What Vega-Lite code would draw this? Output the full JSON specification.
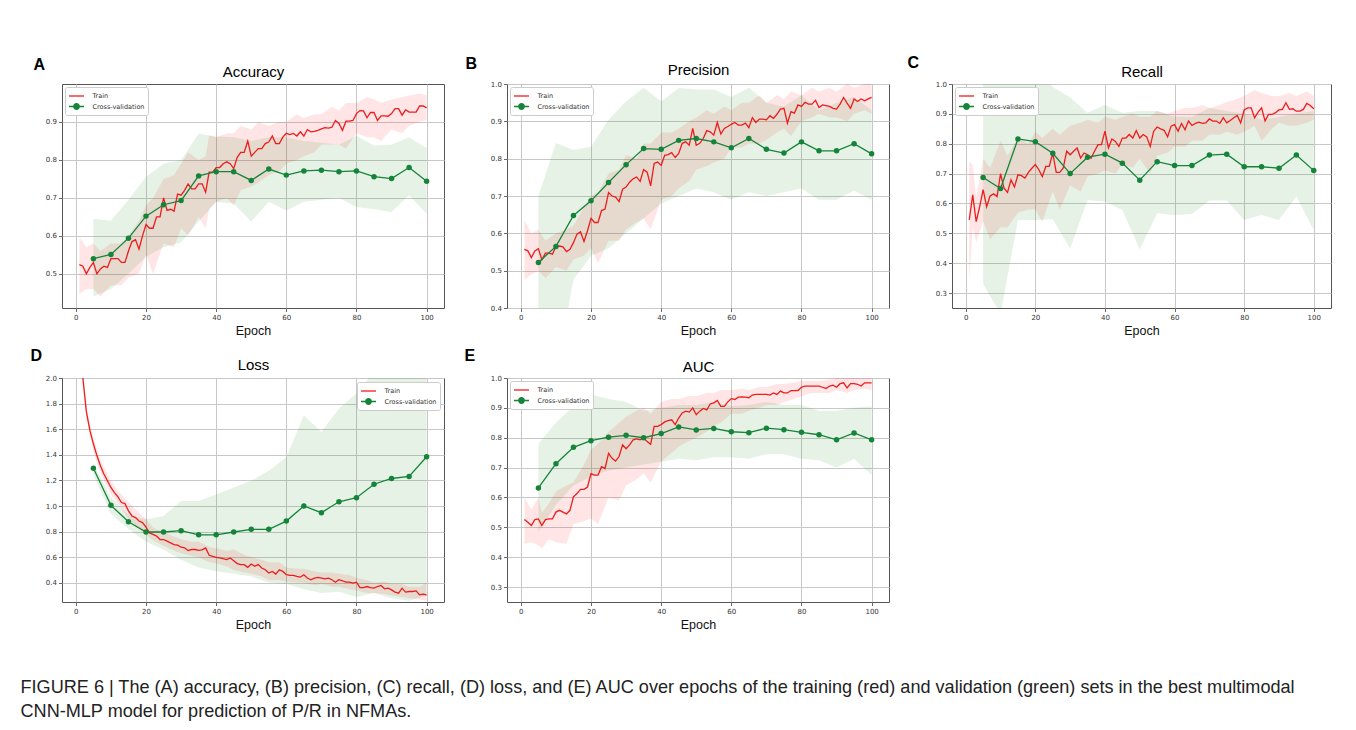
{
"$schema":"https://vega.github.io/schema/vega-lite/v6.json",
"padding":{"left":20,"top":53,"right":5,"bottom":5},
"background":"#ffffff",
"title":{"text":["FIGURE 6 | The (A) accuracy, (B) precision, (C) recall, (D) loss, and (E) AUC over epochs of the training (red) and validation (green) sets in the best multimodal","CNN-MLP model for prediction of P/R in NFMAs."],"orient":"bottom","anchor":"start","frame":"bounds","font":"Liberation Sans","fontSize":18.1,"fontWeight":"normal","color":"#222222","lineHeight":24,"offset":47,"dx":-9},
"datasets":{
"tA":[{"e":1,"t":0.524},{"e":2,"t":0.52},{"e":3,"t":0.5},{"e":4,"t":0.517},{"e":5,"t":0.53},{"e":6,"t":0.5},{"e":7,"t":0.513},{"e":8,"t":0.52},{"e":9,"t":0.517},{"e":10,"t":0.54},{"e":11,"t":0.54},{"e":12,"t":0.54},{"e":13,"t":0.53},{"e":14,"t":0.53},{"e":15,"t":0.56},{"e":16,"t":0.585},{"e":17,"t":0.59},{"e":18,"t":0.565},{"e":19,"t":0.6},{"e":20,"t":0.63},{"e":21,"t":0.62},{"e":22,"t":0.62},{"e":23,"t":0.65},{"e":24,"t":0.65},{"e":25,"t":0.7},{"e":26,"t":0.667},{"e":27,"t":0.67},{"e":28,"t":0.665},{"e":29,"t":0.71},{"e":30,"t":0.707},{"e":31,"t":0.72},{"e":32,"t":0.737},{"e":33,"t":0.724},{"e":34,"t":0.724},{"e":35,"t":0.737},{"e":36,"t":0.737},{"e":37,"t":0.715},{"e":38,"t":0.768},{"e":39,"t":0.768},{"e":40,"t":0.78},{"e":41,"t":0.78},{"e":42,"t":0.79},{"e":43,"t":0.795},{"e":44,"t":0.79},{"e":45,"t":0.777},{"e":46,"t":0.807},{"e":47,"t":0.82},{"e":48,"t":0.82},{"e":49,"t":0.85},{"e":50,"t":0.81},{"e":51,"t":0.82},{"e":52,"t":0.83},{"e":53,"t":0.83},{"e":54,"t":0.843},{"e":55,"t":0.847},{"e":56,"t":0.863},{"e":57,"t":0.843},{"e":58,"t":0.843},{"e":59,"t":0.86},{"e":60,"t":0.87},{"e":61,"t":0.867},{"e":62,"t":0.87},{"e":63,"t":0.863},{"e":64,"t":0.874},{"e":65,"t":0.863},{"e":66,"t":0.88},{"e":67,"t":0.874},{"e":68,"t":0.875},{"e":69,"t":0.878},{"e":70,"t":0.882},{"e":71,"t":0.885},{"e":72,"t":0.884},{"e":73,"t":0.886},{"e":74,"t":0.904},{"e":75,"t":0.896},{"e":76,"t":0.878},{"e":77,"t":0.902},{"e":78,"t":0.902},{"e":79,"t":0.904},{"e":80,"t":0.922},{"e":81,"t":0.93},{"e":82,"t":0.929},{"e":83,"t":0.911},{"e":84,"t":0.925},{"e":85,"t":0.925},{"e":86,"t":0.904},{"e":87,"t":0.916},{"e":88,"t":0.916},{"e":89,"t":0.915},{"e":90,"t":0.922},{"e":91,"t":0.935},{"e":92,"t":0.935},{"e":93,"t":0.918},{"e":94,"t":0.932},{"e":95,"t":0.926},{"e":96,"t":0.926},{"e":97,"t":0.926},{"e":98,"t":0.942},{"e":99,"t":0.942},{"e":100,"t":0.937}],
"tB":[{"e":1,"t":0.557},{"e":2,"t":0.553},{"e":3,"t":0.535},{"e":4,"t":0.553},{"e":5,"t":0.559},{"e":6,"t":0.529},{"e":7,"t":0.547},{"e":8,"t":0.547},{"e":9,"t":0.544},{"e":10,"t":0.565},{"e":11,"t":0.566},{"e":12,"t":0.564},{"e":13,"t":0.551},{"e":14,"t":0.557},{"e":15,"t":0.575},{"e":16,"t":0.598},{"e":17,"t":0.604},{"e":18,"t":0.578},{"e":19,"t":0.607},{"e":20,"t":0.64},{"e":21,"t":0.629},{"e":22,"t":0.629},{"e":23,"t":0.661},{"e":24,"t":0.665},{"e":25,"t":0.709},{"e":26,"t":0.7},{"e":27,"t":0.697},{"e":28,"t":0.685},{"e":29,"t":0.718},{"e":30,"t":0.724},{"e":31,"t":0.737},{"e":32,"t":0.746},{"e":33,"t":0.751},{"e":34,"t":0.739},{"e":35,"t":0.771},{"e":36,"t":0.764},{"e":37,"t":0.727},{"e":38,"t":0.787},{"e":39,"t":0.791},{"e":40,"t":0.782},{"e":41,"t":0.809},{"e":42,"t":0.811},{"e":43,"t":0.816},{"e":44,"t":0.803},{"e":45,"t":0.814},{"e":46,"t":0.841},{"e":47,"t":0.845},{"e":48,"t":0.836},{"e":49,"t":0.881},{"e":50,"t":0.836},{"e":51,"t":0.841},{"e":52,"t":0.854},{"e":53,"t":0.875},{"e":54,"t":0.872},{"e":55,"t":0.863},{"e":56,"t":0.897},{"e":57,"t":0.866},{"e":58,"t":0.881},{"e":59,"t":0.886},{"e":60,"t":0.892},{"e":61,"t":0.897},{"e":62,"t":0.89},{"e":63,"t":0.89},{"e":64,"t":0.895},{"e":65,"t":0.883},{"e":66,"t":0.91},{"e":67,"t":0.897},{"e":68,"t":0.906},{"e":69,"t":0.906},{"e":70,"t":0.904},{"e":71,"t":0.915},{"e":72,"t":0.908},{"e":73,"t":0.919},{"e":74,"t":0.933},{"e":75,"t":0.935},{"e":76,"t":0.895},{"e":77,"t":0.926},{"e":78,"t":0.922},{"e":79,"t":0.944},{"e":80,"t":0.94},{"e":81,"t":0.951},{"e":82,"t":0.946},{"e":83,"t":0.946},{"e":84,"t":0.956},{"e":85,"t":0.937},{"e":86,"t":0.944},{"e":87,"t":0.942},{"e":88,"t":0.94},{"e":89,"t":0.935},{"e":90,"t":0.933},{"e":91,"t":0.946},{"e":92,"t":0.964},{"e":93,"t":0.949},{"e":94,"t":0.935},{"e":95,"t":0.96},{"e":96,"t":0.953},{"e":97,"t":0.96},{"e":98,"t":0.955},{"e":99,"t":0.96},{"e":100,"t":0.964}],
"tC":[{"e":1,"t":0.545},{"e":2,"t":0.629},{"e":3,"t":0.539},{"e":4,"t":0.589},{"e":5,"t":0.646},{"e":6,"t":0.589},{"e":7,"t":0.625},{"e":8,"t":0.632},{"e":9,"t":0.623},{"e":10,"t":0.7},{"e":11,"t":0.651},{"e":12,"t":0.637},{"e":13,"t":0.679},{"e":14,"t":0.655},{"e":15,"t":0.696},{"e":16,"t":0.693},{"e":17,"t":0.685},{"e":18,"t":0.704},{"e":19,"t":0.718},{"e":20,"t":0.73},{"e":21,"t":0.713},{"e":22,"t":0.69},{"e":23,"t":0.724},{"e":24,"t":0.724},{"e":25,"t":0.769},{"e":26,"t":0.704},{"e":27,"t":0.704},{"e":28,"t":0.718},{"e":29,"t":0.775},{"e":30,"t":0.763},{"e":31,"t":0.775},{"e":32,"t":0.786},{"e":33,"t":0.752},{"e":34,"t":0.769},{"e":35,"t":0.763},{"e":36,"t":0.752},{"e":37,"t":0.775},{"e":38,"t":0.797},{"e":39,"t":0.797},{"e":40,"t":0.842},{"e":41,"t":0.786},{"e":42,"t":0.816},{"e":43,"t":0.808},{"e":44,"t":0.791},{"e":45,"t":0.819},{"e":46,"t":0.819},{"e":47,"t":0.831},{"e":48,"t":0.819},{"e":49,"t":0.844},{"e":50,"t":0.819},{"e":51,"t":0.831},{"e":52,"t":0.823},{"e":53,"t":0.791},{"e":54,"t":0.842},{"e":55,"t":0.856},{"e":56,"t":0.85},{"e":57,"t":0.845},{"e":58,"t":0.823},{"e":59,"t":0.859},{"e":60,"t":0.864},{"e":61,"t":0.842},{"e":62,"t":0.868},{"e":63,"t":0.847},{"e":64,"t":0.876},{"e":65,"t":0.861},{"e":66,"t":0.868},{"e":67,"t":0.872},{"e":68,"t":0.868},{"e":69,"t":0.87},{"e":70,"t":0.883},{"e":71,"t":0.876},{"e":72,"t":0.876},{"e":73,"t":0.868},{"e":74,"t":0.887},{"e":75,"t":0.87},{"e":76,"t":0.878},{"e":77,"t":0.887},{"e":78,"t":0.895},{"e":79,"t":0.87},{"e":80,"t":0.913},{"e":81,"t":0.92},{"e":82,"t":0.92},{"e":83,"t":0.887},{"e":84,"t":0.906},{"e":85,"t":0.92},{"e":86,"t":0.876},{"e":87,"t":0.898},{"e":88,"t":0.898},{"e":89,"t":0.904},{"e":90,"t":0.913},{"e":91,"t":0.915},{"e":92,"t":0.937},{"e":93,"t":0.915},{"e":94,"t":0.917},{"e":95,"t":0.909},{"e":96,"t":0.909},{"e":97,"t":0.915},{"e":98,"t":0.935},{"e":99,"t":0.928},{"e":100,"t":0.917}],
"tD":[{"e":1,"t":2.5},{"e":2,"t":2.0},{"e":3,"t":1.735},{"e":4,"t":1.59},{"e":5,"t":1.486},{"e":6,"t":1.394},{"e":7,"t":1.315},{"e":8,"t":1.25},{"e":9,"t":1.197},{"e":10,"t":1.145},{"e":11,"t":1.105},{"e":12,"t":1.071},{"e":13,"t":1.027},{"e":14,"t":1.019},{"e":15,"t":0.961},{"e":16,"t":0.922},{"e":17,"t":0.909},{"e":18,"t":0.883},{"e":19,"t":0.87},{"e":20,"t":0.835},{"e":21,"t":0.79},{"e":22,"t":0.778},{"e":23,"t":0.765},{"e":24,"t":0.738},{"e":25,"t":0.738},{"e":26,"t":0.725},{"e":27,"t":0.712},{"e":28,"t":0.699},{"e":29,"t":0.694},{"e":30,"t":0.678},{"e":31,"t":0.673},{"e":32,"t":0.652},{"e":33,"t":0.66},{"e":34,"t":0.66},{"e":35,"t":0.654},{"e":36,"t":0.657},{"e":37,"t":0.673},{"e":38,"t":0.615},{"e":39,"t":0.607},{"e":40,"t":0.599},{"e":41,"t":0.594},{"e":42,"t":0.589},{"e":43,"t":0.581},{"e":44,"t":0.594},{"e":45,"t":0.573},{"e":46,"t":0.55},{"e":47,"t":0.542},{"e":48,"t":0.542},{"e":49,"t":0.521},{"e":50,"t":0.547},{"e":51,"t":0.529},{"e":52,"t":0.542},{"e":53,"t":0.515},{"e":54,"t":0.502},{"e":55,"t":0.476},{"e":56,"t":0.489},{"e":57,"t":0.468},{"e":58,"t":0.502},{"e":59,"t":0.489},{"e":60,"t":0.463},{"e":61,"t":0.458},{"e":62,"t":0.458},{"e":63,"t":0.45},{"e":64,"t":0.445},{"e":65,"t":0.463},{"e":66,"t":0.437},{"e":67,"t":0.424},{"e":68,"t":0.437},{"e":69,"t":0.442},{"e":70,"t":0.437},{"e":71,"t":0.431},{"e":72,"t":0.437},{"e":73,"t":0.424},{"e":74,"t":0.405},{"e":75,"t":0.424},{"e":76,"t":0.416},{"e":77,"t":0.405},{"e":78,"t":0.405},{"e":79,"t":0.397},{"e":80,"t":0.405},{"e":81,"t":0.363},{"e":82,"t":0.363},{"e":83,"t":0.371},{"e":84,"t":0.363},{"e":85,"t":0.358},{"e":86,"t":0.371},{"e":87,"t":0.379},{"e":88,"t":0.353},{"e":89,"t":0.358},{"e":90,"t":0.345},{"e":91,"t":0.327},{"e":92,"t":0.319},{"e":93,"t":0.358},{"e":94,"t":0.327},{"e":95,"t":0.332},{"e":96,"t":0.332},{"e":97,"t":0.337},{"e":98,"t":0.306},{"e":99,"t":0.311},{"e":100,"t":0.306}],
"tE":[{"e":1,"t":0.526},{"e":2,"t":0.517},{"e":3,"t":0.506},{"e":4,"t":0.526},{"e":5,"t":0.528},{"e":6,"t":0.506},{"e":7,"t":0.526},{"e":8,"t":0.528},{"e":9,"t":0.528},{"e":10,"t":0.551},{"e":11,"t":0.557},{"e":12,"t":0.551},{"e":13,"t":0.545},{"e":14,"t":0.557},{"e":15,"t":0.602},{"e":16,"t":0.613},{"e":17,"t":0.627},{"e":18,"t":0.627},{"e":19,"t":0.635},{"e":20,"t":0.68},{"e":21,"t":0.675},{"e":22,"t":0.675},{"e":23,"t":0.703},{"e":24,"t":0.697},{"e":25,"t":0.748},{"e":26,"t":0.731},{"e":27,"t":0.722},{"e":28,"t":0.737},{"e":29,"t":0.776},{"e":30,"t":0.763},{"e":31,"t":0.776},{"e":32,"t":0.793},{"e":33,"t":0.796},{"e":34,"t":0.793},{"e":35,"t":0.799},{"e":36,"t":0.787},{"e":37,"t":0.778},{"e":38,"t":0.838},{"e":39,"t":0.838},{"e":40,"t":0.844},{"e":41,"t":0.853},{"e":42,"t":0.857},{"e":43,"t":0.86},{"e":44,"t":0.844},{"e":45,"t":0.866},{"e":46,"t":0.883},{"e":47,"t":0.889},{"e":48,"t":0.886},{"e":49,"t":0.9},{"e":50,"t":0.877},{"e":51,"t":0.889},{"e":52,"t":0.898},{"e":53,"t":0.893},{"e":54,"t":0.913},{"e":55,"t":0.917},{"e":56,"t":0.925},{"e":57,"t":0.905},{"e":58,"t":0.905},{"e":59,"t":0.92},{"e":60,"t":0.931},{"e":61,"t":0.928},{"e":62,"t":0.936},{"e":63,"t":0.937},{"e":64,"t":0.936},{"e":65,"t":0.934},{"e":66,"t":0.943},{"e":67,"t":0.945},{"e":68,"t":0.945},{"e":69,"t":0.945},{"e":70,"t":0.945},{"e":71,"t":0.943},{"e":72,"t":0.95},{"e":73,"t":0.945},{"e":74,"t":0.956},{"e":75,"t":0.95},{"e":76,"t":0.95},{"e":77,"t":0.958},{"e":78,"t":0.958},{"e":79,"t":0.958},{"e":80,"t":0.969},{"e":81,"t":0.973},{"e":82,"t":0.973},{"e":83,"t":0.973},{"e":84,"t":0.973},{"e":85,"t":0.973},{"e":86,"t":0.969},{"e":87,"t":0.965},{"e":88,"t":0.973},{"e":89,"t":0.976},{"e":90,"t":0.969},{"e":91,"t":0.981},{"e":92,"t":0.984},{"e":93,"t":0.967},{"e":94,"t":0.981},{"e":95,"t":0.981},{"e":96,"t":0.979},{"e":97,"t":0.973},{"e":98,"t":0.984},{"e":99,"t":0.984},{"e":100,"t":0.984}],
"bA":[{"e":1,"lo":0.447,"hi":0.597},{"e":3,"lo":0.46,"hi":0.57},{"e":5,"lo":0.46,"hi":0.58},{"e":7,"lo":0.44,"hi":0.56},{"e":10,"lo":0.47,"hi":0.58},{"e":13,"lo":0.47,"hi":0.58},{"e":15,"lo":0.49,"hi":0.6},{"e":18,"lo":0.5,"hi":0.64},{"e":20,"lo":0.55,"hi":0.68},{"e":22,"lo":0.5,"hi":0.7},{"e":25,"lo":0.58,"hi":0.75},{"e":28,"lo":0.57,"hi":0.76},{"e":30,"lo":0.62,"hi":0.79},{"e":32,"lo":0.6,"hi":0.82},{"e":35,"lo":0.65,"hi":0.8},{"e":37,"lo":0.62,"hi":0.81},{"e":38,"lo":0.67,"hi":0.865},{"e":40,"lo":0.69,"hi":0.86},{"e":43,"lo":0.7,"hi":0.87},{"e":45,"lo":0.68,"hi":0.87},{"e":47,"lo":0.72,"hi":0.89},{"e":50,"lo":0.73,"hi":0.88},{"e":52,"lo":0.74,"hi":0.9},{"e":55,"lo":0.76,"hi":0.89},{"e":58,"lo":0.77,"hi":0.9},{"e":60,"lo":0.79,"hi":0.9},{"e":63,"lo":0.8,"hi":0.92},{"e":65,"lo":0.81,"hi":0.91},{"e":68,"lo":0.82,"hi":0.92},{"e":70,"lo":0.84,"hi":0.92},{"e":73,"lo":0.84,"hi":0.94},{"e":75,"lo":0.84,"hi":0.93},{"e":77,"lo":0.83,"hi":0.95},{"e":80,"lo":0.87,"hi":0.95},{"e":83,"lo":0.86,"hi":0.965},{"e":85,"lo":0.86,"hi":0.96},{"e":87,"lo":0.85,"hi":0.95},{"e":90,"lo":0.88,"hi":0.96},{"e":93,"lo":0.87,"hi":0.965},{"e":95,"lo":0.89,"hi":0.97},{"e":98,"lo":0.9,"hi":0.975},{"e":100,"lo":0.905,"hi":0.97}],
"bB":[{"e":1,"lo":0.475,"hi":0.635},{"e":3,"lo":0.49,"hi":0.6},{"e":5,"lo":0.5,"hi":0.61},{"e":7,"lo":0.48,"hi":0.58},{"e":10,"lo":0.51,"hi":0.6},{"e":13,"lo":0.5,"hi":0.61},{"e":15,"lo":0.53,"hi":0.62},{"e":18,"lo":0.54,"hi":0.67},{"e":20,"lo":0.56,"hi":0.7},{"e":22,"lo":0.52,"hi":0.71},{"e":25,"lo":0.58,"hi":0.76},{"e":28,"lo":0.58,"hi":0.77},{"e":30,"lo":0.61,"hi":0.81},{"e":33,"lo":0.63,"hi":0.8},{"e":35,"lo":0.64,"hi":0.84},{"e":37,"lo":0.61,"hi":0.84},{"e":40,"lo":0.69,"hi":0.87},{"e":43,"lo":0.7,"hi":0.87},{"e":45,"lo":0.72,"hi":0.88},{"e":48,"lo":0.74,"hi":0.9},{"e":50,"lo":0.77,"hi":0.91},{"e":53,"lo":0.78,"hi":0.93},{"e":55,"lo":0.79,"hi":0.92},{"e":58,"lo":0.8,"hi":0.94},{"e":60,"lo":0.83,"hi":0.93},{"e":63,"lo":0.83,"hi":0.95},{"e":65,"lo":0.84,"hi":0.95},{"e":68,"lo":0.84,"hi":0.97},{"e":70,"lo":0.85,"hi":0.95},{"e":73,"lo":0.87,"hi":0.97},{"e":75,"lo":0.88,"hi":0.96},{"e":77,"lo":0.86,"hi":0.98},{"e":80,"lo":0.9,"hi":0.97},{"e":83,"lo":0.91,"hi":0.99},{"e":85,"lo":0.92,"hi":0.98},{"e":88,"lo":0.91,"hi":0.99},{"e":90,"lo":0.91,"hi":0.98},{"e":93,"lo":0.9,"hi":1.0},{"e":95,"lo":0.92,"hi":0.99},{"e":98,"lo":0.93,"hi":1.0},{"e":100,"lo":0.92,"hi":1.0}],
"bC":[{"e":1,"lo":0.34,"hi":0.74},{"e":2,"lo":0.52,"hi":0.73},{"e":3,"lo":0.47,"hi":0.62},{"e":5,"lo":0.54,"hi":0.75},{"e":7,"lo":0.48,"hi":0.72},{"e":10,"lo":0.52,"hi":0.81},{"e":12,"lo":0.52,"hi":0.76},{"e":15,"lo":0.57,"hi":0.82},{"e":18,"lo":0.58,"hi":0.8},{"e":20,"lo":0.58,"hi":0.84},{"e":22,"lo":0.54,"hi":0.82},{"e":25,"lo":0.64,"hi":0.85},{"e":27,"lo":0.58,"hi":0.83},{"e":30,"lo":0.66,"hi":0.86},{"e":33,"lo":0.64,"hi":0.87},{"e":35,"lo":0.69,"hi":0.88},{"e":38,"lo":0.7,"hi":0.87},{"e":40,"lo":0.71,"hi":0.89},{"e":43,"lo":0.7,"hi":0.88},{"e":45,"lo":0.73,"hi":0.89},{"e":48,"lo":0.72,"hi":0.9},{"e":50,"lo":0.75,"hi":0.89},{"e":53,"lo":0.7,"hi":0.89},{"e":55,"lo":0.76,"hi":0.91},{"e":58,"lo":0.77,"hi":0.9},{"e":60,"lo":0.79,"hi":0.91},{"e":63,"lo":0.79,"hi":0.92},{"e":65,"lo":0.81,"hi":0.92},{"e":68,"lo":0.81,"hi":0.93},{"e":70,"lo":0.83,"hi":0.92},{"e":73,"lo":0.83,"hi":0.93},{"e":75,"lo":0.84,"hi":0.94},{"e":78,"lo":0.83,"hi":0.95},{"e":80,"lo":0.84,"hi":0.96},{"e":83,"lo":0.86,"hi":0.98},{"e":85,"lo":0.81,"hi":0.97},{"e":88,"lo":0.85,"hi":0.96},{"e":90,"lo":0.87,"hi":0.96},{"e":93,"lo":0.86,"hi":0.97},{"e":95,"lo":0.86,"hi":0.96},{"e":98,"lo":0.87,"hi":0.975},{"e":100,"lo":0.88,"hi":0.96}],
"bD":[{"e":2,"lo":1.97,"hi":2.05},{"e":3,"lo":1.69,"hi":1.78},{"e":5,"lo":1.43,"hi":1.53},{"e":7,"lo":1.26,"hi":1.36},{"e":10,"lo":1.09,"hi":1.2},{"e":12,"lo":1.02,"hi":1.12},{"e":15,"lo":0.9,"hi":1.03},{"e":18,"lo":0.82,"hi":0.95},{"e":20,"lo":0.78,"hi":0.9},{"e":22,"lo":0.73,"hi":0.83},{"e":25,"lo":0.69,"hi":0.8},{"e":28,"lo":0.65,"hi":0.76},{"e":30,"lo":0.63,"hi":0.74},{"e":33,"lo":0.61,"hi":0.72},{"e":35,"lo":0.6,"hi":0.72},{"e":38,"lo":0.56,"hi":0.68},{"e":40,"lo":0.55,"hi":0.67},{"e":43,"lo":0.53,"hi":0.65},{"e":45,"lo":0.5,"hi":0.66},{"e":48,"lo":0.48,"hi":0.62},{"e":50,"lo":0.47,"hi":0.6},{"e":53,"lo":0.45,"hi":0.58},{"e":55,"lo":0.42,"hi":0.56},{"e":58,"lo":0.42,"hi":0.56},{"e":60,"lo":0.41,"hi":0.52},{"e":63,"lo":0.4,"hi":0.51},{"e":65,"lo":0.4,"hi":0.51},{"e":68,"lo":0.38,"hi":0.49},{"e":70,"lo":0.39,"hi":0.48},{"e":73,"lo":0.37,"hi":0.48},{"e":75,"lo":0.37,"hi":0.47},{"e":78,"lo":0.35,"hi":0.46},{"e":80,"lo":0.34,"hi":0.44},{"e":83,"lo":0.32,"hi":0.42},{"e":85,"lo":0.32,"hi":0.4},{"e":88,"lo":0.31,"hi":0.41},{"e":90,"lo":0.3,"hi":0.39},{"e":93,"lo":0.29,"hi":0.39},{"e":95,"lo":0.28,"hi":0.37},{"e":98,"lo":0.27,"hi":0.37},{"e":100,"lo":0.26,"hi":0.4}],
"bE":[{"e":1,"lo":0.445,"hi":0.6},{"e":3,"lo":0.45,"hi":0.56},{"e":5,"lo":0.44,"hi":0.6},{"e":6,"lo":0.43,"hi":0.55},{"e":8,"lo":0.46,"hi":0.58},{"e":10,"lo":0.45,"hi":0.62},{"e":13,"lo":0.445,"hi":0.64},{"e":15,"lo":0.51,"hi":0.65},{"e":18,"lo":0.52,"hi":0.71},{"e":20,"lo":0.53,"hi":0.76},{"e":22,"lo":0.51,"hi":0.78},{"e":25,"lo":0.6,"hi":0.82},{"e":28,"lo":0.59,"hi":0.85},{"e":30,"lo":0.64,"hi":0.87},{"e":33,"lo":0.66,"hi":0.89},{"e":35,"lo":0.68,"hi":0.9},{"e":37,"lo":0.65,"hi":0.88},{"e":40,"lo":0.72,"hi":0.92},{"e":43,"lo":0.75,"hi":0.93},{"e":45,"lo":0.77,"hi":0.93},{"e":48,"lo":0.79,"hi":0.94},{"e":50,"lo":0.8,"hi":0.94},{"e":53,"lo":0.82,"hi":0.95},{"e":55,"lo":0.84,"hi":0.95},{"e":57,"lo":0.85,"hi":0.96},{"e":60,"lo":0.88,"hi":0.96},{"e":63,"lo":0.88,"hi":0.965},{"e":65,"lo":0.89,"hi":0.96},{"e":68,"lo":0.9,"hi":0.97},{"e":70,"lo":0.91,"hi":0.97},{"e":73,"lo":0.91,"hi":0.98},{"e":75,"lo":0.92,"hi":0.98},{"e":78,"lo":0.93,"hi":0.985},{"e":80,"lo":0.94,"hi":0.99},{"e":83,"lo":0.95,"hi":0.99},{"e":85,"lo":0.95,"hi":0.99},{"e":88,"lo":0.95,"hi":0.995},{"e":90,"lo":0.96,"hi":1.0},{"e":93,"lo":0.95,"hi":1.0},{"e":95,"lo":0.96,"hi":1.0},{"e":98,"lo":0.965,"hi":1.0},{"e":100,"lo":0.96,"hi":1.0}],
"vA":[{"e":5,"v":0.54,"lo":0.44,"hi":0.645},{"e":10,"v":0.551,"lo":0.46,"hi":0.64},{"e":15,"v":0.594,"lo":0.5,"hi":0.695},{"e":20,"v":0.652,"lo":0.545,"hi":0.755},{"e":25,"v":0.682,"lo":0.57,"hi":0.79},{"e":30,"v":0.693,"lo":0.583,"hi":0.8},{"e":35,"v":0.758,"lo":0.638,"hi":0.869},{"e":40,"v":0.769,"lo":0.689,"hi":0.862},{"e":45,"v":0.769,"lo":0.685,"hi":0.86},{"e":50,"v":0.746,"lo":0.638,"hi":0.85},{"e":55,"v":0.776,"lo":0.69,"hi":0.86},{"e":60,"v":0.76,"lo":0.667,"hi":0.86},{"e":65,"v":0.771,"lo":0.69,"hi":0.85},{"e":70,"v":0.773,"lo":0.695,"hi":0.845},{"e":75,"v":0.769,"lo":0.7,"hi":0.84},{"e":80,"v":0.771,"lo":0.676,"hi":0.863},{"e":85,"v":0.756,"lo":0.67,"hi":0.838},{"e":90,"v":0.751,"lo":0.663,"hi":0.84},{"e":95,"v":0.78,"lo":0.707,"hi":0.86},{"e":100,"v":0.744,"lo":0.658,"hi":0.831}],
"vB":[{"e":5,"v":0.522,"lo":0.15,"hi":0.7},{"e":10,"v":0.565,"lo":0.22,"hi":0.842},{"e":15,"v":0.648,"lo":0.476,"hi":0.823},{"e":20,"v":0.687,"lo":0.54,"hi":0.832},{"e":25,"v":0.736,"lo":0.56,"hi":0.904},{"e":30,"v":0.784,"lo":0.6,"hi":0.953},{"e":35,"v":0.827,"lo":0.64,"hi":0.99},{"e":40,"v":0.825,"lo":0.68,"hi":0.953},{"e":45,"v":0.849,"lo":0.7,"hi":0.989},{"e":50,"v":0.854,"lo":0.72,"hi":0.985},{"e":55,"v":0.845,"lo":0.71,"hi":0.985},{"e":60,"v":0.829,"lo":0.69,"hi":0.965},{"e":65,"v":0.854,"lo":0.71,"hi":0.99},{"e":70,"v":0.825,"lo":0.7,"hi":0.95},{"e":75,"v":0.815,"lo":0.71,"hi":0.94},{"e":80,"v":0.845,"lo":0.72,"hi":0.97},{"e":85,"v":0.821,"lo":0.69,"hi":0.93},{"e":90,"v":0.821,"lo":0.69,"hi":0.95},{"e":95,"v":0.84,"lo":0.715,"hi":0.965},{"e":100,"v":0.813,"lo":0.69,"hi":0.93}],
"vC":[{"e":5,"v":0.687,"lo":0.33,"hi":1.05},{"e":10,"v":0.65,"lo":0.23,"hi":1.05},{"e":15,"v":0.816,"lo":0.545,"hi":1.05},{"e":20,"v":0.807,"lo":0.545,"hi":1.05},{"e":25,"v":0.768,"lo":0.547,"hi":0.99},{"e":30,"v":0.7,"lo":0.449,"hi":0.955},{"e":35,"v":0.755,"lo":0.612,"hi":0.904},{"e":40,"v":0.765,"lo":0.606,"hi":0.93},{"e":45,"v":0.735,"lo":0.578,"hi":0.904},{"e":50,"v":0.678,"lo":0.446,"hi":0.91},{"e":55,"v":0.74,"lo":0.567,"hi":0.91},{"e":60,"v":0.727,"lo":0.561,"hi":0.89},{"e":65,"v":0.727,"lo":0.565,"hi":0.89},{"e":70,"v":0.762,"lo":0.61,"hi":0.92},{"e":75,"v":0.765,"lo":0.61,"hi":0.91},{"e":80,"v":0.723,"lo":0.545,"hi":0.9},{"e":85,"v":0.723,"lo":0.561,"hi":0.88},{"e":90,"v":0.718,"lo":0.545,"hi":0.89},{"e":95,"v":0.762,"lo":0.623,"hi":0.9},{"e":100,"v":0.71,"lo":0.511,"hi":0.91}],
"vD":[{"e":5,"v":1.295,"lo":1.24,"hi":1.33},{"e":10,"v":1.005,"lo":0.94,"hi":1.07},{"e":15,"v":0.877,"lo":0.82,"hi":0.93},{"e":20,"v":0.797,"lo":0.72,"hi":0.896},{"e":25,"v":0.797,"lo":0.66,"hi":0.922},{"e":30,"v":0.807,"lo":0.58,"hi":1.04},{"e":35,"v":0.775,"lo":0.52,"hi":1.04},{"e":40,"v":0.775,"lo":0.49,"hi":1.09},{"e":45,"v":0.797,"lo":0.47,"hi":1.145},{"e":50,"v":0.818,"lo":0.45,"hi":1.197},{"e":55,"v":0.818,"lo":0.4,"hi":1.276},{"e":60,"v":0.882,"lo":0.39,"hi":1.381},{"e":65,"v":1.0,"lo":0.35,"hi":1.709},{"e":70,"v":0.948,"lo":0.32,"hi":1.578},{"e":75,"v":1.033,"lo":0.33,"hi":1.761},{"e":80,"v":1.065,"lo":0.29,"hi":1.879},{"e":85,"v":1.17,"lo":0.32,"hi":2.05},{"e":90,"v":1.215,"lo":0.28,"hi":2.15},{"e":95,"v":1.231,"lo":0.26,"hi":2.25},{"e":100,"v":1.385,"lo":0.3,"hi":2.45}],
"vE":[{"e":5,"v":0.632,"lo":0.485,"hi":0.78},{"e":10,"v":0.713,"lo":0.575,"hi":0.85},{"e":15,"v":0.768,"lo":0.64,"hi":0.905},{"e":20,"v":0.79,"lo":0.67,"hi":0.945},{"e":25,"v":0.802,"lo":0.69,"hi":0.93},{"e":30,"v":0.808,"lo":0.7,"hi":0.92},{"e":35,"v":0.8,"lo":0.71,"hi":0.89},{"e":40,"v":0.814,"lo":0.72,"hi":0.9},{"e":45,"v":0.836,"lo":0.73,"hi":0.91},{"e":50,"v":0.826,"lo":0.725,"hi":0.91},{"e":55,"v":0.831,"lo":0.735,"hi":0.92},{"e":60,"v":0.82,"lo":0.735,"hi":0.905},{"e":65,"v":0.817,"lo":0.73,"hi":0.91},{"e":70,"v":0.832,"lo":0.745,"hi":0.92},{"e":75,"v":0.827,"lo":0.745,"hi":0.91},{"e":80,"v":0.818,"lo":0.73,"hi":0.91},{"e":85,"v":0.81,"lo":0.725,"hi":0.89},{"e":90,"v":0.793,"lo":0.7,"hi":0.89},{"e":95,"v":0.816,"lo":0.73,"hi":0.9},{"e":100,"v":0.793,"lo":0.675,"hi":0.905}]
},
"columns":3,
"bounds":"flush",
"spacing":{"row":70,"column":63},
"concat":[
{"width":382,"height":224,"resolve":{"axis":{"x":"independent","y":"independent"}},"layer":[
 {"data":{"name":"bA"},"mark":{"type":"area","color":"#ff0000","opacity":0.1,"clip":true},"encoding":{"x":{"field":"e","type":"quantitative","scale":{"domain":[-3.95,104.95],"nice":false,"zero":false},"axis":{"values":[0,20,40,60,80,100],"format":"d","title":"Epoch"}},"y":{"field":"lo","type":"quantitative","scale":{"domain":[0.41,1.0],"nice":false,"zero":false},"axis":{"orient":"left","values":[0.5,0.6,0.7,0.8,0.9],"format":".1f","title":"A","titleX":-29,"titleY":-15}},"y2":{"field":"hi"}}},
 {"data":{"name":"vA"},"mark":{"type":"area","color":"#008000","opacity":0.1,"clip":true},"encoding":{"x":{"field":"e","type":"quantitative","scale":{"domain":[-3.95,104.95],"nice":false,"zero":false},"axis":{"orient":"top","title":"Accuracy","labels":false,"ticks":false,"grid":false,"domain":false,"titleFontSize":15,"titlePadding":8,"titleBaseline":"alphabetic","titleFontWeight":"normal","titleColor":"#000000","titleFont":"Liberation Sans"}},"y":{"field":"lo","type":"quantitative","scale":{"domain":[0.41,1.0],"nice":false,"zero":false},"axis":null},"y2":{"field":"hi"}}},
 {"data":{"name":"tA"},"mark":{"type":"line","strokeWidth":1.3,"clip":true},"encoding":{"x":{"field":"e","type":"quantitative","axis":null},"y":{"field":"t","type":"quantitative","axis":null},"color":{"datum":"Train","type":"nominal","scale":{"domain":["Train","Cross-validation"],"range":["#ee1c1c","#15843a"]},"legend":{"title":null,"orient":"top-left","offset":3,"encode":{"symbols":{"update":{"shape":{"signal":"datum.value === 'Train' ? 'M-1.5,0H1.5' : 'M-1.5,0H1.5M-0.55,0A0.55,0.55,0,1,1,0.55,0A0.55,0.55,0,1,1,-0.55,0Z'"},"fill":{"signal":"datum.value === 'Train' ? 'transparent' : '#15843a'"},"stroke":{"signal":"datum.value === 'Train' ? '#ee1c1c' : '#15843a'"},"strokeWidth":{"value":1.3},"opacity":{"value":1}}}}}}}},
 {"data":{"name":"vA"},"mark":{"type":"line","strokeWidth":1.3,"clip":true,"point":{"filled":true,"size":30,"opacity":1}},"encoding":{"x":{"field":"e","type":"quantitative","axis":null},"y":{"field":"v","type":"quantitative","axis":null},"color":{"datum":"Cross-validation","type":"nominal","legend":null}}}
]},
{"width":382,"height":224,"resolve":{"axis":{"x":"independent","y":"independent"}},"layer":[
 {"data":{"name":"bB"},"mark":{"type":"area","color":"#ff0000","opacity":0.1,"clip":true},"encoding":{"x":{"field":"e","type":"quantitative","scale":{"domain":[-3.95,104.95],"nice":false,"zero":false},"axis":{"values":[0,20,40,60,80,100],"format":"d","title":"Epoch"}},"y":{"field":"lo","type":"quantitative","scale":{"domain":[0.4,1.0],"nice":false,"zero":false},"axis":{"orient":"left","values":[0.4,0.5,0.6,0.7,0.8,0.9,1.0],"format":".1f","title":"B","titleX":-42,"titleY":-16}},"y2":{"field":"hi"}}},
 {"data":{"name":"vB"},"mark":{"type":"area","color":"#008000","opacity":0.1,"clip":true},"encoding":{"x":{"field":"e","type":"quantitative","scale":{"domain":[-3.95,104.95],"nice":false,"zero":false},"axis":{"orient":"top","title":"Precision","labels":false,"ticks":false,"grid":false,"domain":false,"titleFontSize":15,"titlePadding":10,"titleBaseline":"alphabetic","titleFontWeight":"normal","titleColor":"#000000","titleFont":"Liberation Sans"}},"y":{"field":"lo","type":"quantitative","scale":{"domain":[0.4,1.0],"nice":false,"zero":false},"axis":null},"y2":{"field":"hi"}}},
 {"data":{"name":"tB"},"mark":{"type":"line","strokeWidth":1.3,"clip":true},"encoding":{"x":{"field":"e","type":"quantitative","axis":null},"y":{"field":"t","type":"quantitative","axis":null},"color":{"datum":"Train","type":"nominal","scale":{"domain":["Train","Cross-validation"],"range":["#ee1c1c","#15843a"]},"legend":{"title":null,"orient":"top-left","offset":3,"encode":{"symbols":{"update":{"shape":{"signal":"datum.value === 'Train' ? 'M-1.5,0H1.5' : 'M-1.5,0H1.5M-0.55,0A0.55,0.55,0,1,1,0.55,0A0.55,0.55,0,1,1,-0.55,0Z'"},"fill":{"signal":"datum.value === 'Train' ? 'transparent' : '#15843a'"},"stroke":{"signal":"datum.value === 'Train' ? '#ee1c1c' : '#15843a'"},"strokeWidth":{"value":1.3},"opacity":{"value":1}}}}}}}},
 {"data":{"name":"vB"},"mark":{"type":"line","strokeWidth":1.3,"clip":true,"point":{"filled":true,"size":30,"opacity":1}},"encoding":{"x":{"field":"e","type":"quantitative","axis":null},"y":{"field":"v","type":"quantitative","axis":null},"color":{"datum":"Cross-validation","type":"nominal","legend":null}}}
]},
{"width":379,"height":224,"resolve":{"axis":{"x":"independent","y":"independent"}},"layer":[
 {"data":{"name":"bC"},"mark":{"type":"area","color":"#ff0000","opacity":0.1,"clip":true},"encoding":{"x":{"field":"e","type":"quantitative","scale":{"domain":[-3.95,104.95],"nice":false,"zero":false},"axis":{"values":[0,20,40,60,80,100],"format":"d","title":"Epoch"}},"y":{"field":"lo","type":"quantitative","scale":{"domain":[0.25,1.0],"nice":false,"zero":false},"axis":{"orient":"left","values":[0.3,0.4,0.5,0.6,0.7,0.8,0.9,1.0],"format":".1f","title":"C","titleX":-45,"titleY":-17}},"y2":{"field":"hi"}}},
 {"data":{"name":"vC"},"mark":{"type":"area","color":"#008000","opacity":0.1,"clip":true},"encoding":{"x":{"field":"e","type":"quantitative","scale":{"domain":[-3.95,104.95],"nice":false,"zero":false},"axis":{"orient":"top","title":"Recall","labels":false,"ticks":false,"grid":false,"domain":false,"titleFontSize":15,"titlePadding":8,"titleBaseline":"alphabetic","titleFontWeight":"normal","titleColor":"#000000","titleFont":"Liberation Sans"}},"y":{"field":"lo","type":"quantitative","scale":{"domain":[0.25,1.0],"nice":false,"zero":false},"axis":null},"y2":{"field":"hi"}}},
 {"data":{"name":"tC"},"mark":{"type":"line","strokeWidth":1.3,"clip":true},"encoding":{"x":{"field":"e","type":"quantitative","axis":null},"y":{"field":"t","type":"quantitative","axis":null},"color":{"datum":"Train","type":"nominal","scale":{"domain":["Train","Cross-validation"],"range":["#ee1c1c","#15843a"]},"legend":{"title":null,"orient":"top-left","offset":3,"encode":{"symbols":{"update":{"shape":{"signal":"datum.value === 'Train' ? 'M-1.5,0H1.5' : 'M-1.5,0H1.5M-0.55,0A0.55,0.55,0,1,1,0.55,0A0.55,0.55,0,1,1,-0.55,0Z'"},"fill":{"signal":"datum.value === 'Train' ? 'transparent' : '#15843a'"},"stroke":{"signal":"datum.value === 'Train' ? '#ee1c1c' : '#15843a'"},"strokeWidth":{"value":1.3},"opacity":{"value":1}}}}}}}},
 {"data":{"name":"vC"},"mark":{"type":"line","strokeWidth":1.3,"clip":true,"point":{"filled":true,"size":30,"opacity":1}},"encoding":{"x":{"field":"e","type":"quantitative","axis":null},"y":{"field":"v","type":"quantitative","axis":null},"color":{"datum":"Cross-validation","type":"nominal","legend":null}}}
]},
{"width":382,"height":224,"resolve":{"axis":{"x":"independent","y":"independent"}},"layer":[
 {"data":{"name":"bD"},"mark":{"type":"area","color":"#ff0000","opacity":0.1,"clip":true},"encoding":{"x":{"field":"e","type":"quantitative","scale":{"domain":[-3.95,104.95],"nice":false,"zero":false},"axis":{"values":[0,20,40,60,80,100],"format":"d","title":"Epoch"}},"y":{"field":"lo","type":"quantitative","scale":{"domain":[0.25,2.0],"nice":false,"zero":false},"axis":{"orient":"left","values":[0.4,0.6,0.8,1.0,1.2,1.4,1.6,1.8,2.0],"format":".1f","title":"D","titleX":-32,"titleY":-18}},"y2":{"field":"hi"}}},
 {"data":{"name":"vD"},"mark":{"type":"area","color":"#008000","opacity":0.1,"clip":true},"encoding":{"x":{"field":"e","type":"quantitative","scale":{"domain":[-3.95,104.95],"nice":false,"zero":false},"axis":{"orient":"top","title":"Loss","labels":false,"ticks":false,"grid":false,"domain":false,"titleFontSize":15,"titlePadding":9,"titleBaseline":"alphabetic","titleFontWeight":"normal","titleColor":"#000000","titleFont":"Liberation Sans"}},"y":{"field":"lo","type":"quantitative","scale":{"domain":[0.25,2.0],"nice":false,"zero":false},"axis":null},"y2":{"field":"hi"}}},
 {"data":{"name":"tD"},"mark":{"type":"line","strokeWidth":1.3,"clip":true},"encoding":{"x":{"field":"e","type":"quantitative","axis":null},"y":{"field":"t","type":"quantitative","axis":null},"color":{"datum":"Train","type":"nominal","scale":{"domain":["Train","Cross-validation"],"range":["#ee1c1c","#15843a"]},"legend":{"title":null,"orient":"top-right","offset":4,"encode":{"symbols":{"update":{"shape":{"signal":"datum.value === 'Train' ? 'M-1.5,0H1.5' : 'M-1.5,0H1.5M-0.55,0A0.55,0.55,0,1,1,0.55,0A0.55,0.55,0,1,1,-0.55,0Z'"},"fill":{"signal":"datum.value === 'Train' ? 'transparent' : '#15843a'"},"stroke":{"signal":"datum.value === 'Train' ? '#ee1c1c' : '#15843a'"},"strokeWidth":{"value":1.3},"opacity":{"value":1}}}}}}}},
 {"data":{"name":"vD"},"mark":{"type":"line","strokeWidth":1.3,"clip":true,"point":{"filled":true,"size":30,"opacity":1}},"encoding":{"x":{"field":"e","type":"quantitative","axis":null},"y":{"field":"v","type":"quantitative","axis":null},"color":{"datum":"Cross-validation","type":"nominal","legend":null}}}
]},
{"width":382,"height":224,"resolve":{"axis":{"x":"independent","y":"independent"}},"layer":[
 {"data":{"name":"bE"},"mark":{"type":"area","color":"#ff0000","opacity":0.1,"clip":true},"encoding":{"x":{"field":"e","type":"quantitative","scale":{"domain":[-3.95,104.95],"nice":false,"zero":false},"axis":{"values":[0,20,40,60,80,100],"format":"d","title":"Epoch"}},"y":{"field":"lo","type":"quantitative","scale":{"domain":[0.25,1.0],"nice":false,"zero":false},"axis":{"orient":"left","values":[0.3,0.4,0.5,0.6,0.7,0.8,0.9,1.0],"format":".1f","title":"E","titleX":-43,"titleY":-18}},"y2":{"field":"hi"}}},
 {"data":{"name":"vE"},"mark":{"type":"area","color":"#008000","opacity":0.1,"clip":true},"encoding":{"x":{"field":"e","type":"quantitative","scale":{"domain":[-3.95,104.95],"nice":false,"zero":false},"axis":{"orient":"top","title":"AUC","labels":false,"ticks":false,"grid":false,"domain":false,"titleFontSize":15,"titlePadding":7,"titleBaseline":"alphabetic","titleFontWeight":"normal","titleColor":"#000000","titleFont":"Liberation Sans"}},"y":{"field":"lo","type":"quantitative","scale":{"domain":[0.25,1.0],"nice":false,"zero":false},"axis":null},"y2":{"field":"hi"}}},
 {"data":{"name":"tE"},"mark":{"type":"line","strokeWidth":1.3,"clip":true},"encoding":{"x":{"field":"e","type":"quantitative","axis":null},"y":{"field":"t","type":"quantitative","axis":null},"color":{"datum":"Train","type":"nominal","scale":{"domain":["Train","Cross-validation"],"range":["#ee1c1c","#15843a"]},"legend":{"title":null,"orient":"top-left","offset":3,"encode":{"symbols":{"update":{"shape":{"signal":"datum.value === 'Train' ? 'M-1.5,0H1.5' : 'M-1.5,0H1.5M-0.55,0A0.55,0.55,0,1,1,0.55,0A0.55,0.55,0,1,1,-0.55,0Z'"},"fill":{"signal":"datum.value === 'Train' ? 'transparent' : '#15843a'"},"stroke":{"signal":"datum.value === 'Train' ? '#ee1c1c' : '#15843a'"},"strokeWidth":{"value":1.3},"opacity":{"value":1}}}}}}}},
 {"data":{"name":"vE"},"mark":{"type":"line","strokeWidth":1.3,"clip":true,"point":{"filled":true,"size":30,"opacity":1}},"encoding":{"x":{"field":"e","type":"quantitative","axis":null},"y":{"field":"v","type":"quantitative","axis":null},"color":{"datum":"Cross-validation","type":"nominal","legend":null}}}
]}
],
"config":{
 "view":{"stroke":"#555555","strokeWidth":1},
 "axis":{"labelFont":"DejaVu Sans","labelFontSize":7,"labelColor":"#333333","tickColor":"#444444","tickSize":3.5,"tickWidth":0.8,"labelPadding":2,"grid":true,"gridColor":"#c8c8c8","gridWidth":1,"domain":false,"titleFont":"Liberation Sans","titleFontWeight":"normal","titleColor":"#111111"},
 "axisY":{"titleAngle":0,"titleAlign":"left","titleBaseline":"alphabetic","titleFontSize":16,"titleFontWeight":"bold","titleColor":"#000000","titleFont":"Liberation Sans"},
 "axisBottom":{"titleFontSize":12.5,"titlePadding":4},
 "legend":{"labelFont":"DejaVu Sans","labelFontSize":6.5,"labelColor":"#333333","padding":3,"strokeColor":"#cccccc","fillColor":"#ffffff","cornerRadius":2,"symbolSize":100,"rowPadding":0.5,"labelOffset":10,"symbolOffset":2.5}
}
}
